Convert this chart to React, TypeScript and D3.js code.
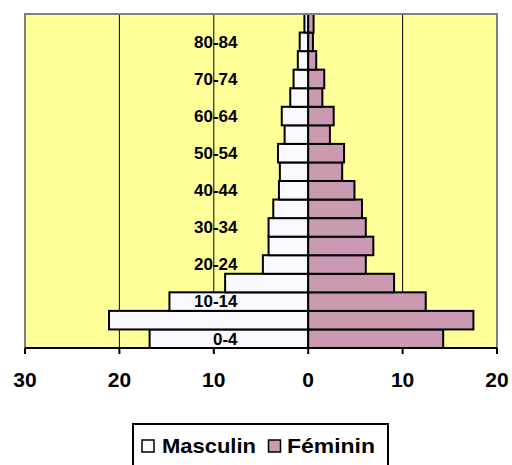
import React from "react";
import * as d3 from "d3";

const ageGroups = ["0-4","5-9","10-14","15-19","20-24","25-29","30-34","35-39","40-44","45-49","50-54","55-59","60-64","65-69","70-74","75-79","80-84","85+"];
const masculin = [16.8, 21.1, 14.7, 8.8, 4.8, 4.2, 4.2, 3.7, 3.1, 3.0, 3.2, 2.5, 2.8, 1.9, 1.55, 1.1, 0.9, 0.4];
const feminin = [14.3, 17.5, 12.45, 9.1, 6.1, 6.9, 6.1, 5.7, 4.9, 3.6, 3.8, 2.3, 2.7, 1.5, 1.7, 0.85, 0.5, 0.57];
const xTicks = [-30, -20, -10, 0, 10, 20];
const gridValues = [-20, -10, 10];
const labelledGroups = ["0-4","10-14","20-24","30-34","40-44","50-54","60-64","70-74","80-84"];

const W = 512, H = 465;
const left = 25, right = 497, top = 14, bottom = 348;
const FONT = "Arial, 'Liberation Sans', sans-serif";
const MALE_FILL = "#F9F9FF";
const FEMALE_FILL = "#CC99B3";

export default function App() {
  const x = d3.scaleLinear().domain([-30, 20]).range([left, right]);
  const y = d3.scaleBand<string>().domain(ageGroups).range([bottom, top]).padding(0);
  const bw = y.bandwidth();

  return (
    <div style={{ position: "absolute", left: 0, top: 0 }}>
      <svg width={W} height={H} style={{ display: "block" }}>
        <rect x={0} y={0} width={W} height={H} fill="#ffffff" />
        <rect x={left} y={top} width={right - left} height={bottom - top} fill="#FFFF99" />
        {gridValues.map((g) => (
          <line key={g} x1={x(g)} x2={x(g)} y1={top} y2={bottom} stroke="#000" strokeWidth={1} />
        ))}
        {ageGroups.map((a, i) => (
          <g key={a}>
            <rect x={x(-masculin[i])} y={y(a)!} width={x(0) - x(-masculin[i])} height={bw}
              fill={MALE_FILL} stroke="#000" strokeWidth={2} />
            <rect x={x(0)} y={y(a)!} width={x(feminin[i]) - x(0)} height={bw}
              fill={FEMALE_FILL} stroke="#000" strokeWidth={2} />
          </g>
        ))}
        {labelledGroups.map((a) => (
          <text key={a} x={237.5} y={y(a)! + bw / 2} dy="0.34em" textAnchor="end"
            fontFamily={FONT} fontWeight="bold" fontSize={17} fill="#000">{a}</text>
        ))}
        <rect x={left} y={top} width={right - left} height={bottom - top} fill="none" stroke="#808080" strokeWidth={2} />
        <line x1={left} x2={right} y1={bottom} y2={bottom} stroke="#000" strokeWidth={2} />
        {xTicks.map((t) => (
          <g key={t}>
            <line x1={x(t)} x2={x(t)} y1={bottom} y2={bottom + 6} stroke="#000" strokeWidth={2} />
            <text x={x(t)} y={387} textAnchor="middle" fontFamily={FONT} fontWeight="bold" fontSize={21} fill="#000">
              {Math.abs(t)}
            </text>
          </g>
        ))}
        <rect x={133} y={424} width={255} height={50} fill="#fff" stroke="#000" strokeWidth={2} />
        <rect x={142} y={440} width={12} height={12} fill={MALE_FILL} stroke="#000" strokeWidth={1.5} />
        <text x={162} y={453} fontFamily={FONT} fontWeight="bold" fontSize={21} fill="#000"
          textLength={94} lengthAdjust="spacingAndGlyphs">Masculin</text>
        <rect x={268.5} y={440} width={12} height={12} fill={FEMALE_FILL} stroke="#000" strokeWidth={1.5} />
        <text x={287} y={453} fontFamily={FONT} fontWeight="bold" fontSize={21} fill="#000"
          textLength={88} lengthAdjust="spacingAndGlyphs">Féminin</text>
      </svg>
    </div>
  );
}
